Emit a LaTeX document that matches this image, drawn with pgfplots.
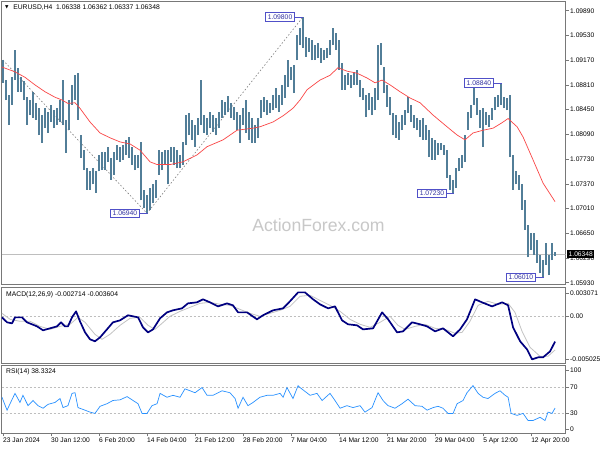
\documentclass[border=0pt]{standalone}
\usepackage{fontspec}
\setmainfont{Liberation Sans}
\newfontfamily\dejavu{DejaVu Sans}
\usepackage{pgfplots}
\usepackage{pgfplotstable}
\pgfplotsset{compat=1.18}

\definecolor{barcol}{RGB}{82,126,152}
\definecolor{macol}{RGB}{250,70,70}
\definecolor{boxcol}{RGB}{80,80,200}
\definecolor{boxtxt}{RGB}{50,50,160}
\definecolor{macdcol}{RGB}{0,0,128}
\definecolor{sigcol}{RGB}{195,195,195}
\definecolor{rsicol}{RGB}{40,145,255}
\definecolor{framecol}{RGB}{120,120,120}
\definecolor{wmcol}{RGB}{200,200,200}
\definecolor{lvlcol}{RGB}{190,190,190}

% H4 bars, every second bar: index, high, low
\pgfplotstableread{
i h l
0 1.0917 1.0884
2 1.0888 1.0859
4 1.0866 1.0823
6 1.0892 1.0852
8 1.0932 1.0888
10 1.0906 1.0871
12 1.0892 1.0871
14 1.0886 1.0859
16 1.0863 1.0823
18 1.0859 1.0837
20 1.0871 1.0833
22 1.0855 1.0830
24 1.0847 1.0808
26 1.0837 1.0797
28 1.0848 1.0818
30 1.0842 1.0811
32 1.0852 1.0827
34 1.0845 1.0818
36 1.0848 1.0823
38 1.0859 1.0827
40 1.0888 1.0823
42 1.0830 1.0782
44 1.0859 1.0815
46 1.0881 1.0852
48 1.0895 1.0859
50 1.0898 1.0830
52 1.0808 1.0775
54 1.0786 1.0757
56 1.0760 1.0728
58 1.0755 1.0728
60 1.0760 1.0736
62 1.0755 1.0724
64 1.0779 1.0755
66 1.0784 1.0757
68 1.0784 1.0757
70 1.0790 1.0769
72 1.0775 1.0743
74 1.0784 1.0750
76 1.0794 1.0772
78 1.0790 1.0769
80 1.0794 1.0772
82 1.0801 1.0779
84 1.0805 1.0775
86 1.0790 1.0765
88 1.0779 1.0757
90 1.0779 1.0760
92 1.0798 1.0713
94 1.0728 1.0702
96 1.0721 1.0694
98 1.0731 1.0699
100 1.0736 1.0709
102 1.0743 1.0716
104 1.0786 1.0750
106 1.0784 1.0757
108 1.0786 1.0765
110 1.0786 1.0736
112 1.0790 1.0769
114 1.0791 1.0765
116 1.0786 1.0760
118 1.0779 1.0760
120 1.0798 1.0765
122 1.0837 1.0794
124 1.0840 1.0808
126 1.0830 1.0801
128 1.0823 1.0791
130 1.0833 1.0808
132 1.0888 1.0823
134 1.0837 1.0811
136 1.0833 1.0808
138 1.0842 1.0818
140 1.0837 1.0813
142 1.0833 1.0808
144 1.0842 1.0818
146 1.0859 1.0833
148 1.0856 1.0837
150 1.0865 1.0842
152 1.0855 1.0833
154 1.0849 1.0830
156 1.0842 1.0815
158 1.0837 1.0797
160 1.0848 1.0823
162 1.0859 1.0811
164 1.0842 1.0801
166 1.0833 1.0797
168 1.0823 1.0797
170 1.0833 1.0804
172 1.0859 1.0833
174 1.0863 1.0842
176 1.0859 1.0837
178 1.0855 1.0840
180 1.0866 1.0844
182 1.0877 1.0847
184 1.0866 1.0842
186 1.0881 1.0852
188 1.0895 1.0862
190 1.0917 1.0878
192 1.0907 1.0888
194 1.0910 1.0869
196 1.0954 1.0917
198 1.0964 1.0939
200 1.0980 1.0935
202 1.0951 1.0922
204 1.0949 1.0929
206 1.0946 1.0917
208 1.0939 1.0917
210 1.0942 1.0920
212 1.0935 1.0913
214 1.0932 1.0917
216 1.0935 1.0920
218 1.0946 1.0925
220 1.0964 1.0939
222 1.0957 1.0932
224 1.0946 1.0903
226 1.0913 1.0874
228 1.0895 1.0874
230 1.0898 1.0881
232 1.0895 1.0877
234 1.0900 1.0881
236 1.0903 1.0881
238 1.0888 1.0863
240 1.0877 1.0859
242 1.0866 1.0834
244 1.0869 1.0844
246 1.0863 1.0837
248 1.0877 1.0844
250 1.0939 1.0859
252 1.0942 1.0910
254 1.0907 1.0869
256 1.0881 1.0849
258 1.0863 1.0837
260 1.0840 1.0808
262 1.0837 1.0804
264 1.0827 1.0801
266 1.0837 1.0815
268 1.0844 1.0823
270 1.0863 1.0840
272 1.0852 1.0827
274 1.0837 1.0818
276 1.0833 1.0815
278 1.0830 1.0805
280 1.0833 1.0801
282 1.0823 1.0801
284 1.0815 1.0776
286 1.0804 1.0772
288 1.0801 1.0772
290 1.0797 1.0779
292 1.0797 1.0786
294 1.0794 1.0779
296 1.0786 1.0746
298 1.0750 1.0728
300 1.0743 1.0723
302 1.0760 1.0731
304 1.0775 1.0755
306 1.0779 1.0760
308 1.0808 1.0769
310 1.0842 1.0815
312 1.0852 1.0833
314 1.0884 1.0852
316 1.0862 1.0837
318 1.0844 1.0818
320 1.0848 1.0791
322 1.0842 1.0823
324 1.0837 1.0820
326 1.0848 1.0830
328 1.0863 1.0844
330 1.0866 1.0849
332 1.0884 1.0852
334 1.0863 1.0847
336 1.0862 1.0844
338 1.0866 1.0776
340 1.0779 1.0728
342 1.0755 1.0736
344 1.0750 1.0728
346 1.0736 1.0699
348 1.0713 1.0670
350 1.0677 1.0630
352 1.0665 1.0641
354 1.0665 1.0633
356 1.0655 1.0622
358 1.0633 1.0607
360 1.0626 1.0601
362 1.0651 1.0619
364 1.0633 1.0604
366 1.0651 1.0626
368 1.0638 1.0632
}\bars

\pgfplotsset{
  panel/.style={
    scale only axis, width=564bp, anchor=north west,
    xmin=-0.87, xmax=375.1,
    axis line style={draw=framecol, line width=0.6bp},
    tick style={draw=framecol, line width=0.6bp},
    ytick pos=right, yticklabel pos=right,
    tick align=outside, major tick length=3bp,
    yticklabel style={anchor=west, inner sep=1bp, xshift=0.3bp},
    tick label style={font=\fontsize{6.7}{8}\selectfont},
    scaled y ticks=false,
    clip mode=individual,
  },
}
\tikzset{
  boxlab/.style={draw=boxcol, fill=white, text=boxtxt, line width=0.6bp,
    inner xsep=2.5bp, inner ysep=1.5bp, text height=5.2bp, text depth=0.5bp,
    anchor=east, font=\fontsize{6.8}{8}\selectfont},
}

\begin{document}
\begin{tikzpicture}[font=\fontsize{6.8}{8}\selectfont]
\path[use as bounding box, fill=white] (0,0) rectangle (600bp,-450bp);

% price panel
\begin{axis}[panel, at={(1.7bp,-1.5bp)}, height=283bp,
  ymin=1.05904, ymax=1.10024, xtick=\empty,
  ytick={1.0593,1.0629,1.0665,1.0701,1.0737,1.0773,1.0809,1.0845,1.0881,1.0917,1.0953,1.0989},
  yticklabels={1.05930,1.06290,1.06650,1.07010,1.07370,1.07730,1.08090,1.08450,1.08810,1.09170,1.09530,1.09890}]
\node[text=wmcol, font=\fontsize{17.7}{18}\selectfont] at (axis cs:210.3,1.0677) {ActionForex.com};
\addplot[draw=lvlcol, line width=0.6bp] coordinates {(-0.87,1.06348) (375.1,1.06348)};
\addplot[draw=gray, line width=0.6bp, dash pattern=on 1.5bp off 2bp] coordinates {(0,1.0917) (96,1.0694) (200,1.0980)};
\addplot[draw=none, mark=none, error bars/.cd, y dir=plus, y explicit, error mark=none,
  error bar style={draw=barcol, line width=1.6bp}]
  table[x=i, y=l, y error expr=\thisrow{h}-\thisrow{l}] {\bars};
\addplot[draw=macol, line width=0.7bp] coordinates {
(-0.7,1.0907) (8,1.0900) (14.7,1.0892) (21.3,1.0881) (28,1.0871) (34.7,1.0863)
(39.3,1.0859) (43.3,1.0854) (48,1.0855) (51.3,1.0847) (58,1.0827) (64.7,1.0811)
(71.3,1.0804) (78,1.0798) (84.7,1.0795) (91.3,1.0786) (98,1.0769) (102.7,1.0765)
(111.3,1.0765) (120,1.0769) (129.3,1.0779) (136,1.0791) (146.7,1.0801) (156,1.0815)
(166.7,1.0818) (171.3,1.0820) (180,1.0827) (186.7,1.0836) (193.3,1.0847) (198,1.0859)
(202.7,1.0874) (211.3,1.0888) (218,1.0895) (223.3,1.0906) (229.3,1.0901) (236,1.0898)
(242.7,1.0891) (248,1.0884) (252.7,1.0888) (258,1.0881) (264.7,1.0871) (271.3,1.0862)
(278,1.0855) (286.7,1.0837) (296,1.0820) (302.7,1.0808) (308,1.0801) (313.3,1.0811)
(320,1.0815) (326.7,1.0818) (332.7,1.0826) (336.7,1.0832) (342.7,1.0820) (346.7,1.0805)
(353.3,1.0772) (360,1.0738) (368,1.0711)};
% swing labels
\draw[boxcol, line width=0.6bp] (axis cs:194.7,1.0980) -- (axis cs:200,1.0980);
\node[boxlab] at (axis cs:194.7,1.0980) {1.09800};
\draw[boxcol, line width=0.6bp] (axis cs:91.3,1.0694) -- (axis cs:96.5,1.0694);
\node[boxlab] at (axis cs:91.3,1.0694) {1.06940};
\draw[boxcol, line width=0.6bp] (axis cs:327.3,1.0884) -- (axis cs:332.5,1.0884);
\node[boxlab] at (axis cs:327.3,1.0884) {1.08840};
\draw[boxcol, line width=0.6bp] (axis cs:296,1.0723) -- (axis cs:300.5,1.0723);
\node[boxlab] at (axis cs:296,1.0723) {1.07230};
\draw[boxcol, line width=0.6bp] (axis cs:355.3,1.0601) -- (axis cs:360.5,1.0601);
\node[boxlab] at (axis cs:355.3,1.0601) {1.06010};
% current price
\node[fill=black, text=white, anchor=west, inner xsep=1.5bp, inner ysep=1bp,
  text height=5.2bp, text depth=0.5bp, font=\fontsize{6.7}{8}\selectfont]
  at (axis cs:375.1,1.06348) [xshift=1.3bp] {1.06348};
% header
\node[anchor=west, inner sep=0] at (rel axis cs:0,1) [xshift=3.2bp, yshift=-5.8bp] {\dejavu\fontsize{4.5}{5}\selectfont ▼};
\node[anchor=west, inner sep=0] at (rel axis cs:0,1) [xshift=11.4bp, yshift=-5.8bp] {EURUSD,H4\ \ 1.06338 1.06362 1.06337 1.06348};
\end{axis}

% MACD panel
\begin{axis}[panel, at={(1.7bp,-287.3bp)}, height=76bp,
  ymin=-0.005025, ymax=0.003071, xtick=\empty,
  ytick={-0.0046,0,0.00243}, yticklabels={-0.005025,0.00,0.003071}]
\addplot[draw=lvlcol, line width=0.6bp, dash pattern=on 2bp off 2bp] coordinates {(-0.87,0) (375.1,0)};
\addplot[draw=sigcol, line width=0.8bp] coordinates {
(-0.7,0.00030) (4.7,-0.00034) (11.3,-0.00055) (18,-0.00055) (24.7,-0.00109) (31.3,-0.00141)
(38,-0.00109) (44.7,-0.00087) (50,-0.00013) (54.7,-0.00066) (61.3,-0.00194) (66,-0.00247)
(71.3,-0.00194) (78,-0.00098) (84.7,-0.00023) (91.3,-0.00013) (96.7,-0.00098) (101.3,-0.00141)
(106,-0.00077) (111.3,-0.00002) (118,0.00051) (124.7,0.00094) (131.3,0.00136) (138,0.00147)
(144.7,0.00126) (151.3,0.00115) (158,0.00072) (164.7,0.00030) (171.3,-0.00002) (178,0.00030)
(184.7,0.00062) (191.3,0.00104) (198,0.00211) (204.7,0.00222) (211.3,0.00168) (218,0.00115)
(224.7,0.00051) (231.3,-0.00034) (238,-0.00087) (244.7,-0.00119) (251.3,-0.00066) (258,-0.00002)
(263.3,-0.00098) (268,-0.00141) (274.7,-0.00109) (281.3,-0.00087) (288,-0.00130) (294.7,-0.00141)
(301.3,-0.00183) (306,-0.00173) (311.3,-0.00055) (316.7,0.00115) (323.3,0.00158) (330,0.00126)
(336.7,0.00136) (341.3,0.00040) (346,-0.00162) (351.3,-0.00332) (358,-0.00428) (363.3,-0.00428)
(368,-0.00360)};
\addplot[draw=macdcol, line width=1.7bp, line join=round] coordinates {
(-0.7,-0.00013) (2.7,-0.00066) (6,-0.00077) (8,-0.00013) (12.7,-0.00013) (16,-0.00066)
(19.3,-0.00087) (22.7,-0.00109) (26.7,-0.00151) (31.3,-0.00130) (36,-0.00109) (38.7,-0.00066)
(41.3,-0.00109) (43.3,-0.00109) (46,-0.00013) (48.7,0.00051) (51.3,-0.00055) (54.7,-0.00173)
(58,-0.00247) (61.3,-0.00268) (64.7,-0.00226) (69.3,-0.00141) (73.3,-0.00066) (78,-0.00045)
(83.3,0.00009) (86.7,-0.00002) (90,-0.00013) (93.3,-0.00119) (96.7,-0.00173) (100,-0.00141)
(104.7,-0.00023) (109.3,0.00040) (113.3,0.00062) (119.3,0.00083) (123.3,0.00136) (129.3,0.00147)
(133.3,0.00179) (138,0.00147) (143.3,0.00104) (149.3,0.00136) (153.3,0.00115) (156.7,0.00040)
(162.7,0.00040) (169.3,-0.00034) (173.3,0.00009) (180,0.00062) (186.7,0.00083) (191.3,0.00158)
(196.7,0.00253) (201.3,0.00253) (206.7,0.00179) (211.3,0.00126) (216.7,0.00083) (221.3,0.00104)
(226,-0.00045) (230,-0.00087) (236,-0.00098) (240,-0.00141) (246.7,-0.00130) (252.7,0.00040)
(256.7,-0.00034) (262.7,-0.00173) (266.7,-0.00162) (272.7,-0.00066) (278,-0.00087) (282.7,-0.00109)
(288,-0.00162) (293.3,-0.00130) (300,-0.00215) (304.7,-0.00141) (309.3,-0.00034) (314.7,0.00179)
(319.3,0.00147) (326,0.00104) (332.7,0.00147) (336.7,0.00115) (340,-0.00119) (344.7,-0.00268)
(349.3,-0.00354) (352.7,-0.00460) (356.7,-0.00439) (360,-0.00439) (364.7,-0.00375) (368,-0.00271)};
\node[anchor=west, inner sep=0] at (rel axis cs:0,1) [xshift=4.3bp, yshift=-7.2bp] {MACD(12,26,9) -0.002714 -0.003604};
\end{axis}

% RSI panel
\begin{axis}[panel, at={(1.7bp,-365.7bp)}, height=67.6bp,
  ymin=-0.77, ymax=103.8,
  ytick={5.4,30,70,96.2}, yticklabels={0,30,70,100},
  xtick={0,32,64,96,128,160,192,224,256,288,320,352},
  xticklabels={23 Jan 2024,30 Jan 12:00,6 Feb 20:00,14 Feb 04:00,21 Feb 12:00,28 Feb 20:00,
    7 Mar 04:00,14 Mar 12:00,21 Mar 20:00,29 Mar 04:00,5 Apr 12:00,12 Apr 20:00},
  xtick pos=bottom, xticklabel style={anchor=north west, inner sep=1bp, xshift=-1bp}]
\addplot[draw=lvlcol, line width=0.6bp, dash pattern=on 2bp off 2bp] coordinates {(-0.87,30) (375.1,30)};
\addplot[draw=lvlcol, line width=0.6bp, dash pattern=on 2bp off 2bp] coordinates {(-0.87,70) (375.1,70)};
\addplot[draw=rsicol, line width=0.7bp] coordinates {
(-0.7,55) (2.7,35) (4.7,45) (8,61) (11.3,47) (13.3,58) (16.7,42) (20,50) (23.3,42) (26.7,38)
(30,44) (34.7,47) (38,53) (40,39) (43.3,42) (46,61) (48,62) (50,39) (54.7,35) (58,32)
(61.3,30) (64.7,41) (69.3,45) (73.3,50) (78,51) (82.7,56) (86.7,50) (90,45) (92.7,30) (96,30)
(99.3,42) (102.7,45) (104.7,61) (109.3,55) (113.3,58) (118,55) (121.3,68) (124.7,65) (128,62)
(132.7,70) (136,58) (140,58) (146,65) (151.3,62) (154.7,53) (156.7,38) (160,55) (163.3,42)
(166.7,47) (171.3,55) (176,58) (180,58) (184.7,61) (186.7,55) (189.3,70) (193.3,53) (196.7,73)
(198,70) (204.7,58) (209.3,61) (212.7,50) (218,61) (221.3,50) (224.7,38) (229.3,42) (233.3,39)
(238,42) (241.3,32) (246,39) (250,62) (253.3,50) (256.7,42) (261.3,38) (266,45) (270,52)
(274.7,42) (279.3,41) (282.7,35) (286.7,39) (290,41) (293.3,38) (296.7,30) (300,30) (302.7,45)
(306.7,50) (309.3,62) (313.3,73) (316.7,61) (320,55) (323.3,53) (328,61) (331.3,65) (334.7,58)
(336.7,55) (338.7,30) (342.7,27) (346.7,30) (350,19) (353.3,19) (358,24) (361.3,19) (363.3,32)
(366,30) (368,38.3)};
\node[anchor=west, inner sep=0] at (rel axis cs:0,1) [xshift=4.3bp, yshift=-6.5bp] {RSI(14) 38.3324};
\end{axis}
\end{tikzpicture}
\end{document}
